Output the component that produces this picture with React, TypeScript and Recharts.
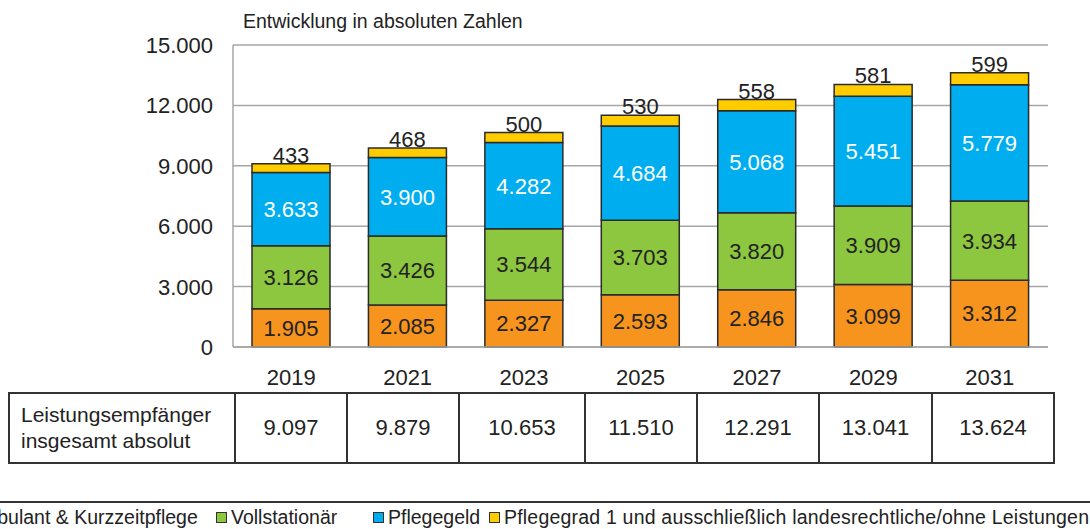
import { BarChart, Bar, XAxis, YAxis, CartesianGrid, LabelList } from 'recharts';

const years = ['2019', '2021', '2023', '2025', '2027', '2029', '2031'];
const ambulant = [1905, 2085, 2327, 2593, 2846, 3099, 3312];
const vollstationaer = [3126, 3426, 3544, 3703, 3820, 3909, 3934];
const pflegegeld = [3633, 3900, 4282, 4684, 5068, 5451, 5779];
const pflegegrad1 = [433, 468, 500, 530, 558, 581, 599];
const totals = [9097, 9879, 10653, 11510, 12291, 13041, 13624];
const yTicks = [0, 3000, 6000, 9000, 12000, 15000];

const FONT = '"Liberation Sans", Arial, sans-serif';
const OUTLINE = '#2b2b2b';
const GRID = '#a6a6a6';
const TXT = '#222';

// 15000 -> "15.000"
const fmt = (v: number) => String(v).replace(/\B(?=(\d{3})+(?!\d))/g, '.');

const data = years.map((year, i) => ({
  year,
  ambulant: ambulant[i],
  voll: vollstationaer[i],
  geld: pflegegeld[i],
  pg1: pflegegrad1[i],
}));

const legendItems = [
  { label: 'Ambulant & Kurzzeitpflege', color: '#F7941D' },
  { label: 'Vollstationär', color: '#8DC63F' },
  { label: 'Pflegegeld', color: '#00AEEF' },
  { label: 'Pflegegrad 1 und ausschließlich landesrechtliche/ohne Leistungen', color: '#FFCC00' },
];
// left edge of each legend marker (first one runs off the left edge, as in the source)
const legendX = [-47, 216, 373, 489];

const YTick = ({ x, y, payload }: any) => (
  <text x={x - 12} y={y} dy={8} textAnchor="end" fontSize={22} fill={TXT} fontFamily={FONT}>
    {fmt(payload.value)}
  </text>
);

const XTick = ({ x, y, payload }: any) => (
  <text x={x} y={y} dy={30} textAnchor="middle" fontSize={22} fill={TXT} fontFamily={FONT}>
    {payload.value}
  </text>
);

const colWidths = [226, 112, 112, 126, 112, 122, 113, 122];
const cellBorder = '2px solid #333';

export default function App() {
  return (
    <div style={{ position: 'fixed', left: 0, top: 0, width: 1090, height: 529, background: '#fff', overflow: 'hidden', fontFamily: FONT }}>
      <div style={{ position: 'absolute', left: 243, top: 10, fontSize: 19.5, color: TXT, whiteSpace: 'nowrap' }}>
        Entwicklung in absoluten Zahlen
      </div>

      <BarChart
        width={1090}
        height={529}
        data={data}
        margin={{ top: 45, right: 42, bottom: 142, left: 153 }}
        barSize={78}
      >
        <CartesianGrid vertical={false} stroke={GRID} strokeWidth={1.5} />
        <YAxis
          width={80}
          domain={[0, 15000]}
          ticks={yTicks}
          interval={0}
          tick={<YTick />}
          tickLine={false}
          axisLine={{ stroke: GRID, strokeWidth: 1.5 }}
        />
        <XAxis
          dataKey="year"
          height={40}
          tick={<XTick />}
          tickLine={false}
          axisLine={{ stroke: GRID, strokeWidth: 1.5 }}
        />
        <Bar dataKey="ambulant" stackId="a" fill="#F7941D" stroke={OUTLINE} strokeWidth={1.5} isAnimationActive={false}>
          <LabelList dataKey="ambulant" position="center" formatter={(v: any) => fmt(v)} fill={TXT} fontSize={22} fontFamily={FONT} />
        </Bar>
        <Bar dataKey="voll" stackId="a" fill="#8DC63F" stroke={OUTLINE} strokeWidth={1.5} isAnimationActive={false}>
          <LabelList dataKey="voll" position="center" formatter={(v: any) => fmt(v)} fill={TXT} fontSize={22} fontFamily={FONT} />
        </Bar>
        <Bar dataKey="geld" stackId="a" fill="#00AEEF" stroke={OUTLINE} strokeWidth={1.5} isAnimationActive={false}>
          <LabelList dataKey="geld" position="center" formatter={(v: any) => fmt(v)} fill="#fff" fontSize={22} fontFamily={FONT} />
        </Bar>
        <Bar dataKey="pg1" stackId="a" fill="#FFCC00" stroke={OUTLINE} strokeWidth={1.5} isAnimationActive={false}>
          <LabelList dataKey="pg1" position="top" offset={1} formatter={(v: any) => fmt(v)} fill={TXT} fontSize={22} fontFamily={FONT} />
        </Bar>
      </BarChart>

      <table
        style={{
          position: 'absolute', left: 8, top: 392, width: 1045, height: 72,
          borderCollapse: 'collapse', tableLayout: 'fixed', fontFamily: FONT, color: TXT,
        }}
      >
        <colgroup>
          {colWidths.map((w, i) => <col key={i} style={{ width: w }} />)}
        </colgroup>
        <tbody>
          <tr>
            <td style={{ border: cellBorder, fontSize: 21, lineHeight: '26px', padding: '0 0 0 11px', textAlign: 'left', whiteSpace: 'nowrap' }}>
              Leistungsempfänger<br />insgesamt absolut
            </td>
            {totals.map((t, i) => (
              <td key={i} style={{ border: cellBorder, fontSize: 22, textAlign: 'center', padding: 0 }}>
                {fmt(t)}
              </td>
            ))}
          </tr>
        </tbody>
      </table>

      <div style={{ position: 'absolute', left: 0, top: 501, width: 1090, borderTop: '2px solid #333' }} />
      {legendItems.map((it, i) => (
        <div
          key={i}
          style={{
            position: 'absolute', left: legendX[i], top: 506, whiteSpace: 'nowrap',
            fontSize: 19.5, color: TXT, display: 'flex', alignItems: 'center',
            letterSpacing: i === 3 ? 0.2 : 0,
          }}
        >
          <span style={{ display: 'inline-block', width: 9, height: 9, background: it.color, border: '1px solid #333', marginRight: 4 }} />
          {it.label}
        </div>
      ))}
    </div>
  );
}
